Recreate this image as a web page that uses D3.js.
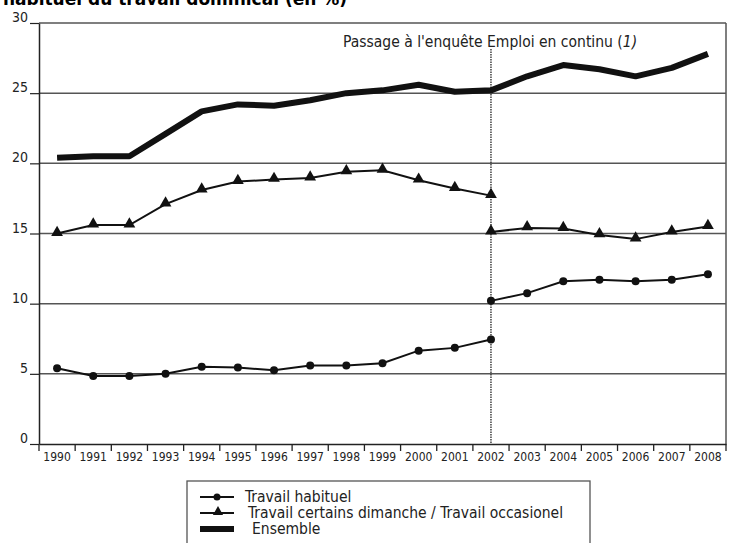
<!DOCTYPE html>
<html>
<head>
<meta charset="utf-8">
<script src="https://cdn.jsdelivr.net/npm/d3@7"></script>
<style>
  body { margin: 0; background: #fff; }
  svg { display: block; font-family: "DejaVu Sans Condensed", "DejaVu Sans", sans-serif; }
</style>
</head>
<body>
<svg id="chart" width="729" height="543"></svg>
<script>
// data
var years = ['1990', '1991', '1992', '1993', '1994', '1995', '1996', '1997', '1998', '1999',
  '2000', '2001', '2002', '2003', '2004', '2005', '2006', '2007', '2008'];
var ensemble = [20.4, 20.5, 20.5, 22.1, 23.7, 24.2, 24.1, 24.5, 25.0, 25.2,
  25.6, 25.1, 25.2, 26.2, 27.0, 26.7, 26.2, 26.8, 27.8];
// first series is split at 2002 (change of survey)
var habituelAvant = [5.4, 4.85, 4.85, 5.0, 5.5, 5.45, 5.25, 5.6, 5.6, 5.75, 6.65, 6.85, 7.45];
var habituelApres = [10.2, 10.75, 11.6, 11.7, 11.6, 11.7, 12.1];
var occasAvant = [15.0, 15.6, 15.6, 17.1, 18.1, 18.7, 18.85, 18.95, 19.4, 19.5, 18.8, 18.2, 17.7];
var occasApres = [15.1, 15.4, 15.35, 14.9, 14.6, 15.1, 15.5];
var yTicks = [0, 5, 10, 15, 20, 25, 30];
var legendLabels = ['Travail habituel', 'Travail certains dimanche / Travail occasionel', 'Ensemble'];
var titleText = 'habituel du travail dominical (en %)';
var noteText = 'Passage à l\'enquête Emploi en continu (';
var breakYear = '2002';

var svg = d3.select('#chart');
var m = { left: 39, right: 726, top: 23, bottom: 444 };

var x = d3.scaleBand().domain(years).range([m.left, m.right]);
var y = d3.scaleLinear().domain([0, 30]).range([m.bottom, m.top]);
var cx = function (yr) { return x(yr) + x.bandwidth() / 2; };

// title, cut off at the top
svg.append('text')
  .attr('x', 347).attr('y', 5)
  .attr('text-anchor', 'end')
  .style('font-family', '"DejaVu Sans", sans-serif')
  .style('font-weight', 'bold')
  .style('font-size', '17px')
  .text(titleText);

// gridlines -------------------- //
svg.append('g').selectAll('line')
  .data(yTicks.filter(function (d) { return d > 0; }))
  .enter().append('line')
  .attr('x1', m.left).attr('x2', m.right)
  .attr('y1', y).attr('y2', y)
  .attr('stroke', '#555').attr('stroke-width', 1.5);

// right border
svg.append('line')
  .attr('x1', m.right).attr('x2', m.right)
  .attr('y1', m.top).attr('y2', m.bottom)
  .attr('stroke', '#555').attr('stroke-width', 1.5);

// y axis
var yAxis = svg.append('g')
  .attr('transform', 'translate(' + m.left + ',0)')
  .call(d3.axisLeft(y).tickValues(yTicks).tickSize(9).tickPadding(2).tickSizeOuter(0));
yAxis.select('.domain').attr('stroke', '#222').attr('stroke-width', 1.5);
yAxis.selectAll('.tick line').attr('stroke', '#222').attr('stroke-width', 1.2);
yAxis.selectAll('.tick text')
  .style('font-family', '"DejaVu Sans Condensed", sans-serif')
  .style('font-size', '14px').attr('fill', '#222').attr('dy', '-0.1em');

// x axis
var xAxis = svg.append('g')
  .attr('transform', 'translate(0,' + m.bottom + ')')
  .call(d3.axisBottom(x).tickSize(0).tickPadding(8).tickSizeOuter(0));
xAxis.select('.domain').attr('stroke', '#222').attr('stroke-width', 1.5);
xAxis.selectAll('.tick text')
  .style('font-family', '"DejaVu Sans Condensed", sans-serif')
  .style('font-size', '12px').attr('fill', '#222');
// tick marks at the category edges
xAxis.selectAll('line.edge')
  .data(years.concat(['end']))
  .enter().append('line')
  .attr('class', 'edge')
  .attr('x1', function (d) { return d === 'end' ? m.right : x(d); })
  .attr('x2', function (d) { return d === 'end' ? m.right : x(d); })
  .attr('y1', 0).attr('y2', 7)
  .attr('stroke', '#222').attr('stroke-width', 1.3);

// break line + note
svg.append('line')
  .attr('x1', cx(breakYear)).attr('x2', cx(breakYear))
  .attr('y1', 49).attr('y2', m.bottom)
  .attr('stroke', '#222').attr('stroke-width', 1.3)
  .attr('stroke-dasharray', '1.5,1');
var note = svg.append('text')
  .attr('x', 343).attr('y', 47)
  .style('font-size', '15.5px').attr('fill', '#222')
  .text(noteText);
note.append('tspan').style('font-style', 'italic').text('1)');

// lines ------------------------ //
var line = d3.line()
  .x(function (d) { return cx(d.year); })
  .y(function (d) { return y(d.v); });
function pts(vals, startIdx) {
  return vals.map(function (v, i) { return { year: years[startIdx + i], v: v }; });
}
var iBreak = years.indexOf(breakYear);

svg.append('path').datum(pts(ensemble, 0))
  .attr('d', line).attr('fill', 'none')
  .attr('stroke', '#111').attr('stroke-width', 6)
  .attr('stroke-linejoin', 'round');

var series = [
  { data: pts(occasAvant, 0), mark: 'tri' },
  { data: pts(occasApres, iBreak), mark: 'tri' },
  { data: pts(habituelAvant, 0), mark: 'dot' },
  { data: pts(habituelApres, iBreak), mark: 'dot' }
];
var tri = d3.symbol().type(d3.symbolTriangle).size(60);

series.forEach(function (s) {
  svg.append('path').datum(s.data)
    .attr('d', line).attr('fill', 'none')
    .attr('stroke', '#111').attr('stroke-width', 2);
  var g = svg.append('g');
  if (s.mark === 'dot') {
    g.selectAll('circle').data(s.data).enter().append('circle')
      .attr('cx', function (d) { return cx(d.year); })
      .attr('cy', function (d) { return y(d.v); })
      .attr('r', 4).attr('fill', '#111');
  } else {
    g.selectAll('path').data(s.data).enter().append('path')
      .attr('d', tri)
      .attr('transform', function (d) { return 'translate(' + cx(d.year) + ',' + (y(d.v) - 1) + ')'; })
      .attr('fill', '#111');
  }
});

// legend ----------------------- //
var lg = svg.append('g');
lg.append('rect')
  .attr('x', 187).attr('y', 481).attr('width', 403).attr('height', 80)
  .attr('fill', 'none').attr('stroke', '#555').attr('stroke-width', 1.3);
var rows = [
  { y: 497, mark: 'dot', tx: 245 },
  { y: 513, mark: 'tri', tx: 248 },
  { y: 529, mark: 'thick', tx: 252 }
];
rows.forEach(function (r, i) {
  lg.append('line')
    .attr('x1', 200).attr('x2', 234).attr('y1', r.y).attr('y2', r.y)
    .attr('stroke', '#111').attr('stroke-width', r.mark === 'thick' ? 6 : 2);
  if (r.mark === 'dot') {
    lg.append('circle').attr('cx', 217).attr('cy', r.y).attr('r', 3.5).attr('fill', '#111');
  } else if (r.mark === 'tri') {
    lg.append('path').attr('d', d3.symbol().type(d3.symbolTriangle).size(45))
      .attr('transform', 'translate(218,' + (r.y - 1) + ')').attr('fill', '#111');
  }
  lg.append('text')
    .attr('x', r.tx).attr('y', r.y + 5)
    .style('font-size', '15.5px').attr('fill', '#222')
    .text(legendLabels[i]);
});
</script>
</body>
</html>
